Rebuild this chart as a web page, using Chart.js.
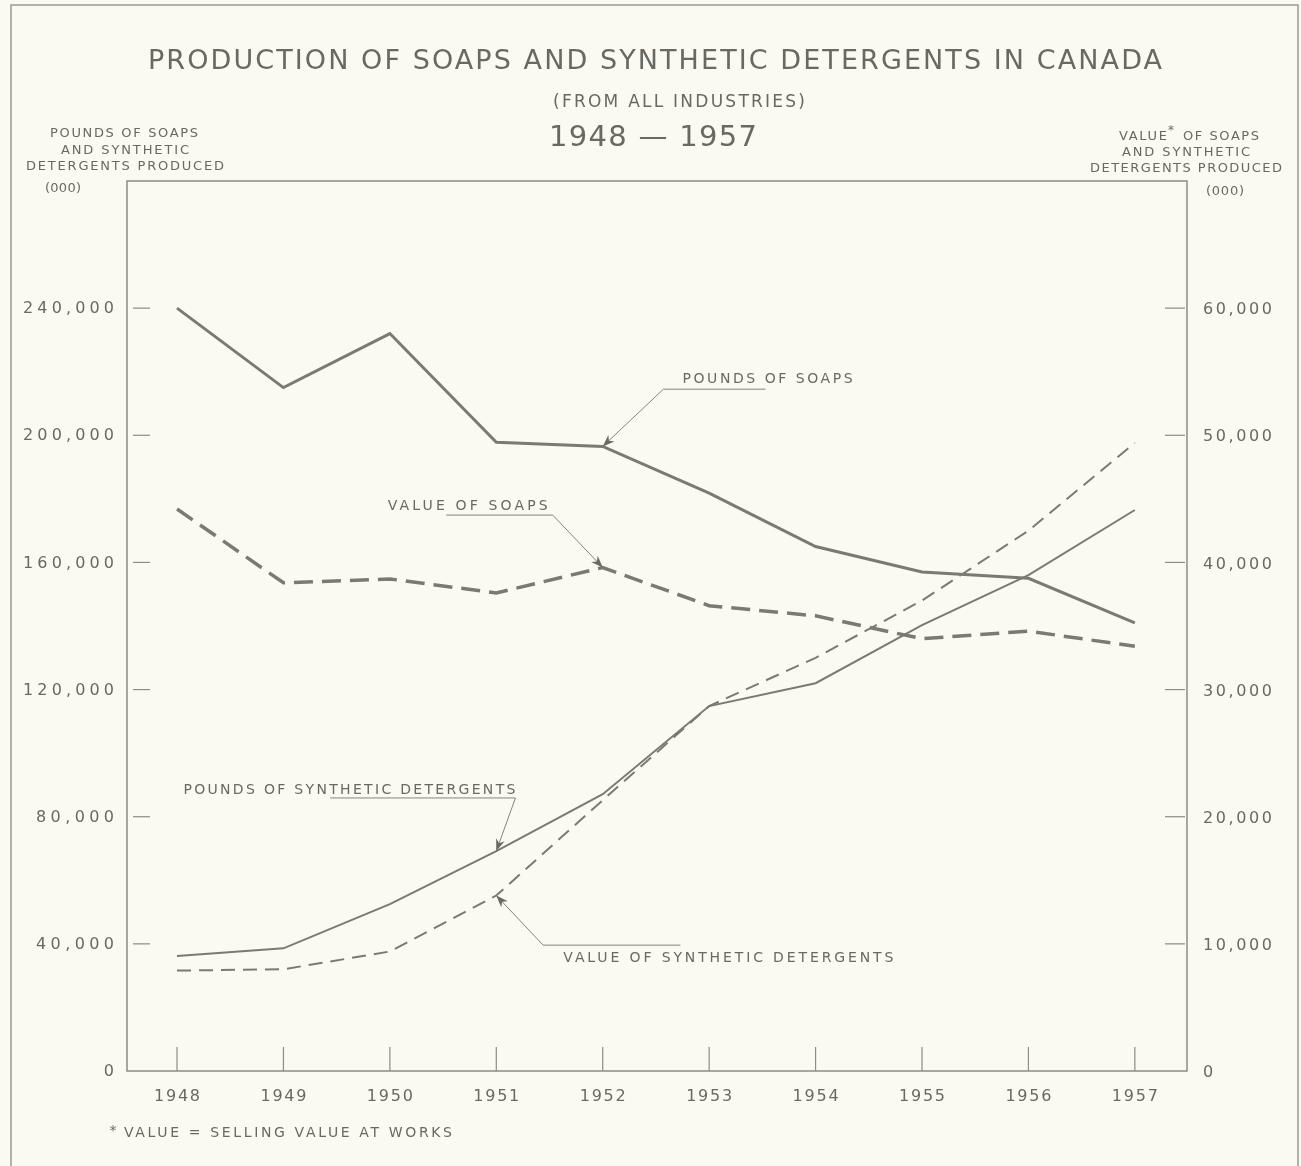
<!DOCTYPE html>
<html>
<head>
<meta charset="utf-8">
<title>Production of Soaps and Synthetic Detergents in Canada</title>
<script src="https://cdn.jsdelivr.net/npm/chart.js@4/dist/chart.umd.min.js"></script>
<style>
    html, body { margin: 0; padding: 0; background: #fafaf1; overflow: hidden; }
    canvas { display: block; }
</style>
</head>
<body>
<canvas id="chart" width="1301" height="1166"></canvas>
<script>
// Data (thousands)
const years = [1948, 1949, 1950, 1951, 1952, 1953, 1954, 1955, 1956, 1957];
const poundsSoaps = [240000, 215000, 232000, 197800, 196500, 181800, 165000, 157000, 155000, 141000];
const poundsSynthetic = [36200, 38600, 52500, 69200, 87100, 114800, 122000, 140300, 156000, 176500];
const valueSoaps = [44200, 38400, 38700, 37600, 39600, 36600, 35800, 34000, 34600, 33400];
const valueSynthetic = [7900, 8000, 9400, 13800, 21300, 28700, 32500, 37000, 42500, 49400];
const leftTicks = [0, 40000, 80000, 120000, 160000, 200000, 240000];
const rightTicks = [0, 10000, 20000, 30000, 40000, 50000, 60000];

const INK = '#696963';
const LINE = '#7a7a73';
const FONT = '"DejaVu Sans", "Liberation Sans", sans-serif';

// Draw text stretched (letter spacing) to a target width
function fitText(ctx, text, x, y, size, width, align) {
    ctx.font = size + 'px ' + FONT;
    ctx.letterSpacing = '0px';
    const w = ctx.measureText(text).width;
    let ls = 0;
    if (width && text.length > 1) ls = (width - w) / (text.length - 1);
    ctx.letterSpacing = ls + 'px';
    const total = width || w;
    let left = x;
    if (align === 'center') left = x - total / 2;
    if (align === 'right') left = x - total;
    ctx.textAlign = 'left';
    ctx.textBaseline = 'middle';
    ctx.fillText(text, left, y);
    ctx.letterSpacing = '0px';
}

function pointsOf(values) {
    return years.map((yr, i) => ({ x: yr, y: values[i] }));
}

// Annotation labels with leader arrows, positioned in data units
const notes = [
    { text: 'POUNDS OF SOAPS', x: 1952.75, y: 217700, width: 170, axis: 'y',
      line: [1953.53, 1952.57, 214500], tip: [1952, poundsSoaps[4]], tipAxis: 'y' },
    { text: 'VALUE OF SOAPS', x: 1949.98, y: 177700, width: 160, axis: 'y',
      line: [1950.53, 1951.53, 174900], tip: [1952, valueSoaps[4]], tipAxis: 'y2' },
    { text: 'POUNDS OF SYNTHETIC DETERGENTS', x: 1948.06, y: 88400, width: 332, axis: 'y',
      line: [1949.44, 1951.18, 85900], tip: [1951, poundsSynthetic[3]], tipAxis: 'y' },
    { text: 'VALUE OF SYNTHETIC DETERGENTS', x: 1951.63, y: 35500, width: 330, axis: 'y',
      line: [1952.73, 1951.44, 39600], tip: [1951, valueSynthetic[3]], tipAxis: 'y2' }
];

const paperPlugin = {
    id: 'paper',
    beforeDraw(chart) {
        const ctx = chart.ctx;
        ctx.save();
        ctx.fillStyle = '#fafaf1';
        ctx.fillRect(0, 0, chart.width, chart.height);
        // outer frame
        ctx.strokeStyle = '#9a9a94';
        ctx.lineWidth = 1.5;
        ctx.beginPath();
        ctx.moveTo(11, chart.height);
        ctx.lineTo(11, 5);
        ctx.lineTo(1298, 5);
        ctx.lineTo(1298, chart.height);
        ctx.stroke();
        ctx.restore();
    },
    beforeDatasetsDraw(chart) {
        const ctx = chart.ctx;
        const a = chart.chartArea;
        const x = chart.scales.x, y = chart.scales.y, y2 = chart.scales.y2;
        ctx.save();
        ctx.strokeStyle = '#8c8c86';
        ctx.lineWidth = 1.5;
        ctx.strokeRect(a.left, a.top, a.right - a.left, a.bottom - a.top);

        ctx.lineWidth = 1.2;
        ctx.fillStyle = INK;
        // left ticks and labels
        leftTicks.forEach(v => {
            const py = y.getPixelForValue(v);
            if (v > 0) {
                ctx.beginPath();
                ctx.moveTo(a.left + 6, py);
                ctx.lineTo(a.left + 23, py);
                ctx.stroke();
            }
            const label = v.toLocaleString('en-US');
            fitText(ctx, label, a.left - 13, py + 1, 16, label.length > 1 ? label.length * 13 : 0, 'right');
        });
        // right ticks and labels
        rightTicks.forEach(v => {
            const py = y2.getPixelForValue(v);
            if (v > 0) {
                ctx.beginPath();
                ctx.moveTo(a.right - 22, py);
                ctx.lineTo(a.right - 2, py);
                ctx.stroke();
            }
            const label = v.toLocaleString('en-US');
            fitText(ctx, label, a.right + 16, py + 2, 16, label.length > 1 ? label.length * 11.5 : 0, 'left');
        });
        // year ticks and labels
        years.forEach(yr => {
            const px = x.getPixelForValue(yr);
            ctx.beginPath();
            ctx.moveTo(px, a.bottom);
            ctx.lineTo(px, a.bottom - 24);
            ctx.stroke();
            fitText(ctx, String(yr), px, a.bottom + 26, 16, 46, 'center');
        });

        // titles
        fitText(ctx, 'PRODUCTION OF SOAPS AND SYNTHETIC DETERGENTS IN CANADA', 655, 62, 27, 1014, 'center');
        fitText(ctx, '(FROM ALL INDUSTRIES)', 679, 103, 17, 252, 'center');
        fitText(ctx, '1948 \u2014 1957', 653, 138, 29, 208, 'center');

        // axis titles
        fitText(ctx, 'POUNDS OF SOAPS', 124, 134, 13, 148, 'center');
        fitText(ctx, 'AND SYNTHETIC', 125, 151, 13, 128, 'center');
        fitText(ctx, 'DETERGENTS PRODUCED', 125, 167, 13, 198, 'center');
        fitText(ctx, '(000)', 63, 189, 13, 36, 'center');

        fitText(ctx, 'VALUE', 1143, 137, 13, 48, 'center');
        fitText(ctx, '*', 1171, 131, 12, 0, 'center');
        fitText(ctx, 'OF SOAPS', 1221, 137, 13, 76, 'center');
        fitText(ctx, 'AND SYNTHETIC', 1186, 153, 13, 128, 'center');
        fitText(ctx, 'DETERGENTS PRODUCED', 1186, 169, 13, 192, 'center');
        fitText(ctx, '(000)', 1225, 192, 13, 38, 'center');

        // footnote
        fitText(ctx, '*', 113, 1131, 14, 0, 'center');
        fitText(ctx, 'VALUE = SELLING VALUE AT WORKS', 124, 1133, 14, 328, 'left');
        ctx.restore();
    },
    afterDatasetsDraw(chart) {
        const ctx = chart.ctx;
        const x = chart.scales.x;
        ctx.save();
        ctx.fillStyle = INK;
        ctx.strokeStyle = '#85857e';
        ctx.lineWidth = 1;
        notes.forEach(n => {
            const sy = chart.scales[n.axis];
            fitText(ctx, n.text, x.getPixelForValue(n.x), sy.getPixelForValue(n.y), 14, n.width, 'left');
            const uy = sy.getPixelForValue(n.line[2]);
            const ux1 = x.getPixelForValue(n.line[0]);
            const ux2 = x.getPixelForValue(n.line[1]);
            const tx = x.getPixelForValue(n.tip[0]);
            const ty = chart.scales[n.tipAxis].getPixelForValue(n.tip[1]);
            // underline then leader to the tip
            ctx.beginPath();
            ctx.moveTo(ux1, uy);
            ctx.lineTo(ux2, uy);
            ctx.lineTo(tx, ty);
            ctx.stroke();
            // arrow head
            const ang = Math.atan2(ty - uy, tx - ux2);
            const len = 12, half = 4.5;
            ctx.beginPath();
            ctx.moveTo(tx, ty);
            ctx.lineTo(tx - len * Math.cos(ang) + half * Math.sin(ang), ty - len * Math.sin(ang) - half * Math.cos(ang));
            ctx.lineTo(tx - len * 0.7 * Math.cos(ang), ty - len * 0.7 * Math.sin(ang));
            ctx.lineTo(tx - len * Math.cos(ang) - half * Math.sin(ang), ty - len * Math.sin(ang) + half * Math.cos(ang));
            ctx.closePath();
            ctx.fill();
        });
        ctx.restore();
    }
};

new Chart(document.getElementById('chart'), {
    type: 'line',
    data: {
        datasets: [
            {
                label: 'Pounds of soaps',
                data: pointsOf(poundsSoaps),
                yAxisID: 'y',
                borderColor: LINE,
                borderWidth: 3,
                pointRadius: 0
            },
            {
                label: 'Value of soaps',
                data: pointsOf(valueSoaps),
                yAxisID: 'y2',
                borderColor: LINE,
                borderWidth: 3.5,
                borderDash: [19, 9],
                pointRadius: 0
            },
            {
                label: 'Pounds of synthetic detergents',
                data: pointsOf(poundsSynthetic),
                yAxisID: 'y',
                borderColor: LINE,
                borderWidth: 2,
                pointRadius: 0
            },
            {
                label: 'Value of synthetic detergents',
                data: pointsOf(valueSynthetic),
                yAxisID: 'y2',
                borderColor: LINE,
                borderWidth: 2,
                borderDash: [14, 8],
                pointRadius: 0
            }
        ]
    },
    options: {
        responsive: false,
        animation: false,
        devicePixelRatio: 1,
        layout: { padding: { left: 127, right: 114, top: 181, bottom: 95 } },
        scales: {
            x: { type: 'linear', min: 1947.53, max: 1957.49, display: false },
            y: { type: 'linear', min: 0, max: 280000, display: false },
            y2: { type: 'linear', min: 0, max: 70000, display: false, position: 'right' }
        },
        plugins: {
            legend: { display: false },
            tooltip: { enabled: false }
        }
    },
    plugins: [paperPlugin]
});
</script>
</body>
</html>
